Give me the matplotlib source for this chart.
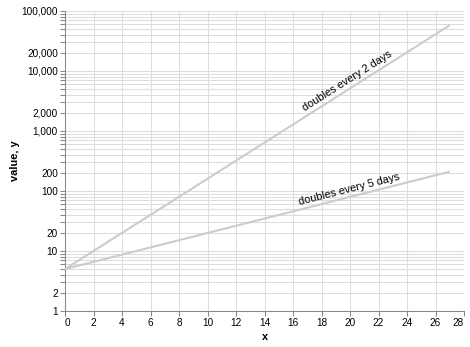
import numpy as np
import matplotlib
matplotlib.use('Agg')
import matplotlib.pyplot as plt
from matplotlib.ticker import FixedLocator, FuncFormatter

# --- data ---
days = [0, 27]
doubles_2_days = [5, 58000]
doubles_5_days = [5, 210]
line_labels = ['doubles every 2 days', 'doubles every 5 days']
label_x = 20

x_ticks = list(range(0, 29, 2))
y_ticks = [m * 10 ** k for k in range(0, 5) for m in range(1, 10)] + [100000]

plt.rcParams['font.family'] = ['Liberation Sans', 'DejaVu Sans']

fig = plt.figure(figsize=(4.7, 3.47), dpi=100)
ax = fig.add_axes([65 / 470, 36 / 347, 399 / 470, 300 / 347])

line_color = '#cccccc'
for ys in (doubles_2_days, doubles_5_days):
    ax.plot(days, ys, color=line_color, linewidth=1.5, solid_capstyle='butt', zorder=3)

ax.set_yscale('log')
ax.set_xlim(0, 28)
ax.set_ylim(1, 100000)
ax.xaxis.set_major_locator(FixedLocator(x_ticks))
ax.yaxis.set_major_locator(FixedLocator(y_ticks))
ax.yaxis.set_minor_locator(FixedLocator([]))

def ylab(v, _):
    lead = v / 10 ** np.floor(np.log10(v) + 1e-9)
    return f'{v:,.0f}' if round(lead) in (1, 2) else ''

ax.yaxis.set_major_formatter(FuncFormatter(ylab))

ax.grid(True, color='#dddddd', linewidth=0.75, zorder=0)
ax.set_axisbelow(True)
for s in ('top', 'right'):
    ax.spines[s].set_visible(False)
for s in ('left', 'bottom'):
    ax.spines[s].set_color('#888888')
    ax.spines[s].set_linewidth(0.75)
ax.tick_params(axis='both', colors='#888888', labelcolor='#000000', labelsize=7.2,
               length=3.6, width=0.75, pad=1.5)

# flush the first/last x labels like the reference
labels = ax.get_xticklabels()
labels[0].set_horizontalalignment('left')
labels[-1].set_horizontalalignment('right')

ax.set_xlabel('x', fontsize=7.9, fontweight='bold', labelpad=3)
ax.set_ylabel('value, y', fontsize=7.9, fontweight='bold', labelpad=1)

# --- labels along the lines ---
fig.canvas.draw()
for ys, text in zip((doubles_2_days, doubles_5_days), line_labels):
    p0 = ax.transData.transform((days[0], ys[0]))
    p1 = ax.transData.transform((days[1], ys[1]))
    ang = np.degrees(np.arctan2(p1[1] - p0[1], p1[0] - p0[0]))
    yv = 10 ** np.interp(label_x, days, np.log10(ys))
    ax.annotate(text, (label_x, yv), xytext=(0, 2), textcoords='offset points',
                rotation=ang, rotation_mode='anchor', ha='center', va='bottom',
                fontsize=7.9, color='#000000')

fig.savefig('out.png', dpi=100)
